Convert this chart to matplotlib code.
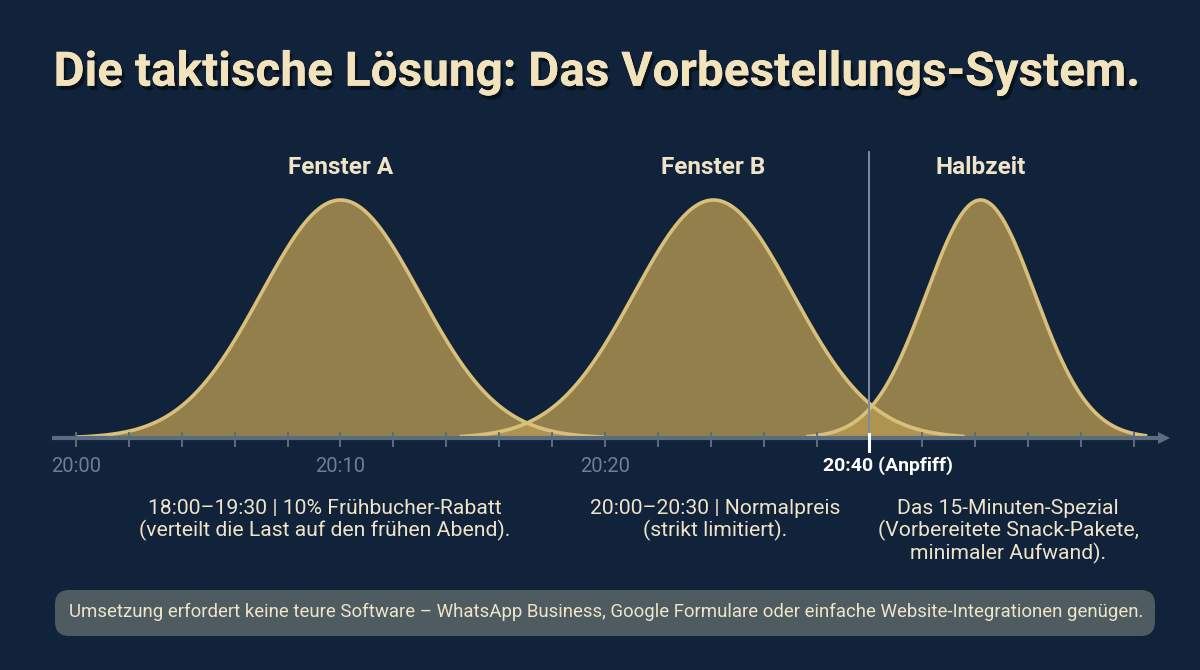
import matplotlib
matplotlib.use("Agg")
import numpy as np
import matplotlib.pyplot as plt
from matplotlib.patches import FancyBboxPatch
import matplotlib.patheffects as pe

# ---------------- data ----------------
title = "Die taktische Lösung: Das Vorbestellungs-System."
window_names = ["Fenster A", "Fenster B", "Halbzeit"]
window_centers = [10.0, 24.1, 34.2]      # minutes after 20:00 on the axis
window_spreads = [3.0, 3.0, 2.05]
window_starts = [0.0, 14.5, 27.6]
window_ends = [20.0, 33.6, 40.5]
window_peaks = [1.0, 1.0, 1.0]
window_texts = [
    "18:00–19:30 | 10% Frühbucher-Rabatt\n(verteilt die Last auf den frühen Abend).",
    "20:00–20:30 | Normalpreis\n(strikt limitiert).",
    "Das 15-Minuten-Spezial\n(Vorbereitete Snack-Pakete,\nminimaler Aufwand).",
]
tick_minutes = list(range(0, 41, 2))
label_minutes = [0, 10, 20]
label_texts = ["20:00", "20:10", "20:20"]
kickoff_minute = 30
kickoff_label = "20:40 (Anpfiff)"
footer = ("Umsetzung erfordert keine teure Software – WhatsApp Business, "
          "Google Formulare oder einfache Website-Integrationen genügen.")

# ---------------- style ----------------
BG = "#10233b"
FILL = "#b89a52"
EDGE = "#d9c07a"
CREAM = "#efe4c8"
AXIS = "#5b6c7e"
TICKLBL = "#6f7f90"

W, H = 1200, 670
fig = plt.figure(figsize=(W / 100, H / 100), dpi=100, facecolor=BG)
ax = fig.add_axes([0, 0, 1, 1])
ax.set_facecolor(BG)
ax.axis("off")

# pixel mapping: x_px = 76 + 26.45 * t ; baseline y=438px, peak y=200px
px_per_min = 26.45
x0px = 76
base_px, peak_px = 438, 200
unit = base_px - peak_px
ax.set_xlim(-x0px / px_per_min, (W - x0px) / px_per_min)
ax.set_ylim(-(H - base_px) / unit, base_px / unit)

def fx(xp):
    return xp / W

def fy(yp):
    return 1 - yp / H

plt.rcParams["font.family"] = ["Roboto", "DejaVu Sans"]

# curves
for name, mu, sd, a, b, pk in zip(window_names, window_centers, window_spreads,
                                  window_starts, window_ends, window_peaks):
    x = np.linspace(a, b, 400)
    y = pk * np.exp(-0.5 * ((x - mu) / sd) ** 2)
    ax.fill_between(x, 0, y, color=FILL, alpha=0.78, lw=0, zorder=2)
    ax.plot(x, y, color=EDGE, lw=2.6, zorder=3, solid_capstyle="butt")
    ax.text(mu, (base_px - 167) / unit, name, ha="center", va="center",
            fontsize=17.5, fontweight="bold", color=CREAM, zorder=5)

# kickoff vertical line
ax.plot([kickoff_minute, kickoff_minute], [0, (base_px - 152) / unit],
        color="#7d8c9c", lw=1.4, zorder=4)

# axis line with arrow
ax.plot([-0.9, 40.9], [0, 0], color=AXIS, lw=3, zorder=4, solid_capstyle="butt")
ax.plot([41.15], [0], marker=">", markersize=9, color=AXIS, zorder=4, markeredgewidth=0)

for t in tick_minutes:
    if t == kickoff_minute:
        continue
    ax.plot([t, t], [-8 / unit, 5 / unit], color=AXIS, lw=1.4, zorder=4)
ax.plot([kickoff_minute, kickoff_minute], [-13 / unit, 4 / unit], color="white", lw=2.2, zorder=5)

lbl_y = -(466 - base_px) / unit
for t, s in zip(label_minutes, label_texts):
    ax.text(t, lbl_y, s, ha="center", va="center", fontsize=14.5, color=TICKLBL)
ax.text((888 - x0px) / px_per_min, lbl_y, kickoff_label, ha="center", va="center", fontsize=14,
        fontweight="semibold", color="white")

# descriptions
desc_x = [325, 715, 1008]
for xp, txt in zip(desc_x, window_texts):
    fig.text(fx(xp), fy(499), txt, ha="center", va="top", fontsize=15.2, color=CREAM,
             linespacing=1.12)

# title (fit to width)
renderer = fig.canvas.get_renderer()
tt = fig.text(fx(597), fy(73), title, ha="center", va="center", fontsize=40,
              fontweight="bold", color="#f3e3bc",
              path_effects=[pe.withSimplePatchShadow(offset=(2, -3), shadow_rgbFace="black", alpha=0.45),
                            pe.Normal()])
bb = tt.get_window_extent(renderer)
tt.set_fontsize(40 * 1085 / bb.width)

# footer box
box = FancyBboxPatch((fx(55), fy(636)), fx(1100), (636 - 590) / H,
                     boxstyle="round,pad=0,rounding_size=0.012",
                     transform=fig.transFigure, facecolor="#4e5c62", edgecolor="none",
                     mutation_aspect=W / H)
fig.patches.append(box)
ft = fig.text(fx(606), fy(612), footer, ha="center", va="center", fontsize=13, color=CREAM)
bb = ft.get_window_extent(renderer)
ft.set_fontsize(13 * 1072 / bb.width)

fig.savefig("out.png", dpi=100, facecolor=BG)
